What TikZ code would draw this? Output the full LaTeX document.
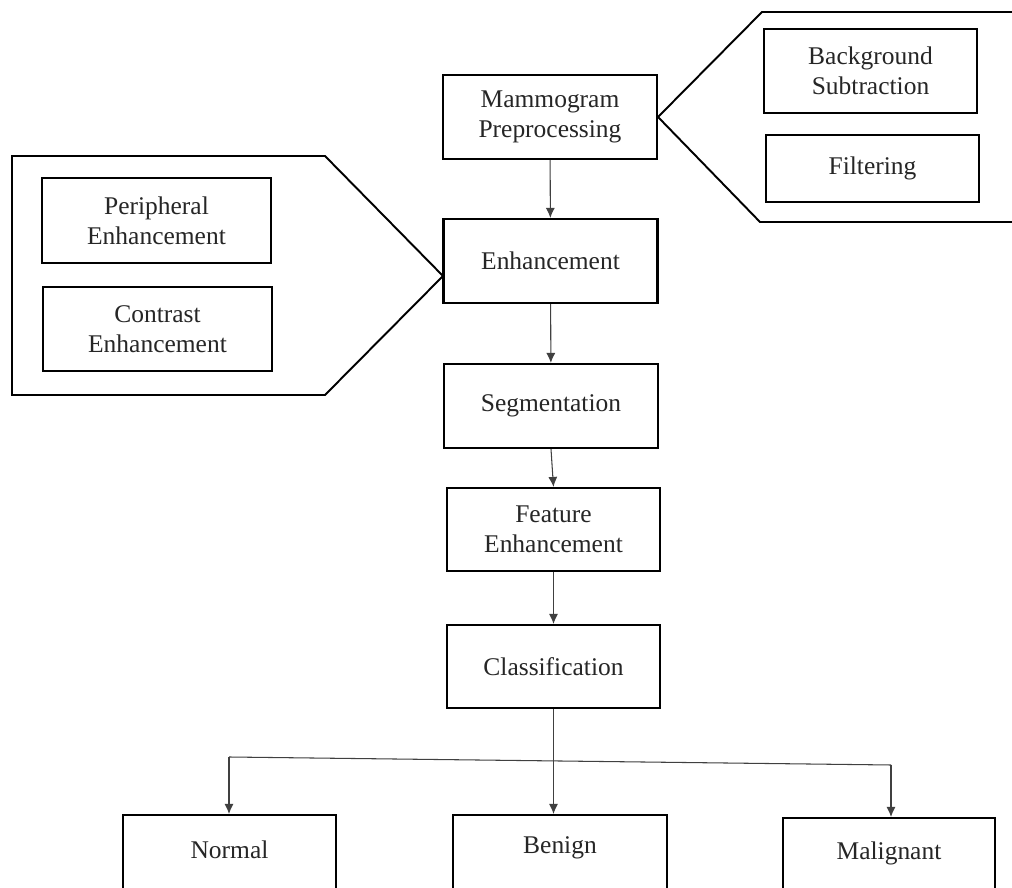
\documentclass[tikz,border=0pt]{standalone}
\usepackage{fontspec}
\setmainfont{Liberation Serif}
\usepackage{tikz}
\usetikzlibrary{arrows.meta}

\begin{document}
\begin{tikzpicture}[x=0.02cm, y=-0.02cm,
  stage/.style={draw, line width=1.2pt, align=center, inner sep=2pt,
    minimum width=4.28cm, minimum height=1.68cm,
    font=\fontsize{14.5}{17}\selectfont, text=black!85},
  flow/.style={-{Latex[length=2mm,width=1.8mm]}, line width=0.6pt, black!75},
  callout/.style={line width=1.1pt, line join=miter}]
\clip (0,0) rectangle (1012,888);
\fill [white] (0,0) rectangle (1012,888);
% main chain
\node [stage] (prep) at (550,117) {Mammogram\\Preprocessing};
\node [stage] (enh) at (550.5,261) {Enhancement};
\node [stage] (seg) at (551,406) {Segmentation};
\node [stage, minimum width=4.26cm, minimum height=1.66cm] (feat) at (553.5,529.5) {Feature\\Enhancement};
\node [stage, minimum width=4.26cm, minimum height=1.66cm] (cls) at (553.5,666.5) {Classification};
% outcomes
\node [stage, minimum width=4.26cm, text depth=8pt] (normal) at (229.5,857) {Normal};
\node [stage, text depth=14pt] (benign) at (560,857) {Benign};
\node [stage, minimum width=4.24cm, text depth=11pt] (malig) at (889,860) {Malignant};
% right callout
\draw [callout] (1020,12) -- (762,12) -- (prep.east) -- (760,222) -- (1020,222);
\node [stage, minimum width=4.26cm] (bgsub) at (870.5,71) {Background\\Subtraction};
\node [stage, minimum width=4.26cm, minimum height=1.34cm] (filt) at (872.5,168.5) {Filtering};
% left callout
\draw [callout] (12,156) -- (325,156) -- (443,276) -- (325,395) -- (12,395) -- cycle;
\node [stage, minimum width=4.58cm, minimum height=1.7cm] (periph) at (156.5,220.5) {Peripheral\\Enhancement};
\node [stage, minimum width=4.58cm] (contr) at (157.5,329) {Contrast\\Enhancement};
% arrows
\draw [flow] (prep) -- (enh);
\draw [flow] (enh) -- (seg);
\draw [flow] (seg.south) -- (feat.north);
\draw [flow] (feat) -- (cls);
\coordinate (jl) at (229,757);
\coordinate (jr) at (891,765);
\draw [line width=0.6pt, black!75] (jl) -- (jr);
\draw [flow] (jl) -- (jl |- normal.north);
\draw [flow] (jr) -- (jr |- malig.north);
\draw [flow] (cls.south) -- (cls.south |- benign.north);
\end{tikzpicture}
\end{document}
